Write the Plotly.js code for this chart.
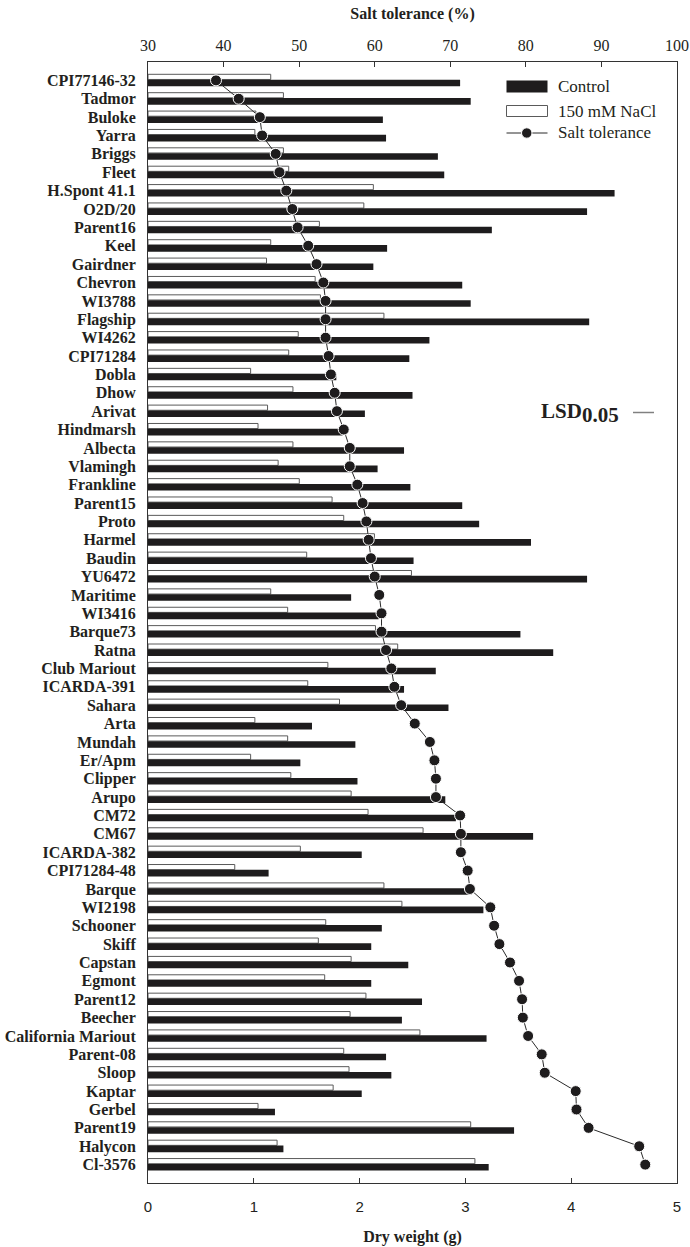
<!DOCTYPE html>
<html>
<head>
<meta charset="utf-8">
<script src="https://cdn.plot.ly/plotly-3.0.1.min.js"></script>
<style>
  html, body { margin: 0; padding: 0; background: #ffffff; }
  #chart { width: 690px; height: 1247px; }
</style>
</head>
<body>
<div id="chart"></div>
<script>
// ---- data (top to bottom) ----
const cultivars = [
  "CPI77146-32", "Tadmor", "Buloke", "Yarra", "Briggs", "Fleet", "H.Spont 41.1", "O2D/20",
  "Parent16", "Keel", "Gairdner", "Chevron", "WI3788", "Flagship", "WI4262", "CPI71284",
  "Dobla", "Dhow", "Arivat", "Hindmarsh", "Albecta", "Vlamingh", "Frankline", "Parent15",
  "Proto", "Harmel", "Baudin", "YU6472", "Maritime", "WI3416", "Barque73", "Ratna",
  "Club Mariout", "ICARDA-391", "Sahara", "Arta", "Mundah", "Er/Apm", "Clipper", "Arupo",
  "CM72", "CM67", "ICARDA-382", "CPI71284-48", "Barque", "WI2198", "Schooner", "Skiff",
  "Capstan", "Egmont", "Parent12", "Beecher", "California Mariout", "Parent-08", "Sloop",
  "Kaptar", "Gerbel", "Parent19", "Halycon", "Cl-3576"
];

// Dry weight (g), control
const controlDW = [
  2.95, 3.05, 2.22, 2.25, 2.74, 2.80, 4.41, 4.15,
  3.25, 2.26, 2.13, 2.97, 3.05, 4.17, 2.66, 2.47,
  1.78, 2.50, 2.05, 1.84, 2.42, 2.17, 2.48, 2.97,
  3.13, 3.62, 2.51, 4.15, 1.92, 2.18, 3.52, 3.83,
  2.72, 2.42, 2.84, 1.55, 1.96, 1.44, 1.98, 2.81,
  2.91, 3.64, 2.02, 1.14, 3.06, 3.17, 2.21, 2.11,
  2.46, 2.11, 2.59, 2.40, 3.20, 2.25, 2.30,
  2.02, 1.20, 3.46, 1.28, 3.22
];

// Dry weight (g), 150 mM NaCl
const saltDW = [
  1.16, 1.28, 1.02, 1.01, 1.28, 1.33, 2.13, 2.04,
  1.62, 1.16, 1.12, 1.58, 1.63, 2.23, 1.42, 1.33,
  0.97, 1.37, 1.13, 1.04, 1.37, 1.23, 1.43, 1.74,
  1.85, 2.14, 1.50, 2.49, 1.16, 1.32, 2.15, 2.36,
  1.70, 1.51, 1.81, 1.01, 1.32, 0.97, 1.35, 1.92,
  2.08, 2.60, 1.44, 0.82, 2.23, 2.40, 1.68, 1.61,
  1.92, 1.67, 2.06, 1.91, 2.57, 1.85, 1.90,
  1.75, 1.04, 3.05, 1.22, 3.09
];

// Salt tolerance (%)
const saltTolerance = [
  39.0, 42.0, 44.8, 45.1, 46.9, 47.4, 48.3, 49.1,
  49.8, 51.2, 52.3, 53.2, 53.5, 53.5, 53.5, 53.9,
  54.2, 54.7, 55.0, 55.9, 56.7, 56.7, 57.7, 58.4,
  58.9, 59.2, 59.5, 60.0, 60.6, 60.9, 60.9, 61.5,
  62.2, 62.6, 63.5, 65.3, 67.3, 67.9, 68.1, 68.1,
  71.3, 71.4, 71.4, 72.3, 72.6, 75.3, 75.8, 76.5,
  77.9, 79.1, 79.5, 79.6, 80.3, 82.1, 82.5,
  86.6, 86.7, 88.3, 95.0, 95.8
];

const dwTicks = [0, 1, 2, 3, 4, 5];
const stTicks = [30, 40, 50, 60, 70, 80, 90, 100];

// ---- geometry helpers (pixel -> paper) ----
const W = 690, H = 1247;
const M = { l: 148, r: 13, t: 62, b: 64 };
const PW = W - M.l - M.r, PH = H - M.t - M.b;
const px = x => (x - M.l) / PW;
const py = y => 1 - (y - M.t) / PH;

const SERIF = "Liberation Serif, Times New Roman, serif";
const SANS = "Liberation Sans, Arial, sans-serif";
const INK = "#231f20";

const traces = [
  {
    type: "bar", orientation: "h", name: "150 mM NaCl",
    y: cultivars, x: saltDW,
    offset: -0.33, width: 0.28,
    marker: { color: "#ffffff", line: { color: "#5a5a5a", width: 1 } },
    hoverinfo: "x+y"
  },
  {
    type: "bar", orientation: "h", name: "Control",
    y: cultivars, x: controlDW,
    offset: -0.04, width: 0.36,
    marker: { color: "#1e1c1d", line: { width: 0 } },
    hoverinfo: "x+y"
  },
  {
    type: "scatter", mode: "lines+markers", name: "Salt tolerance",
    y: cultivars, x: saltTolerance, xaxis: "x2", yaxis: "y",
    line: { color: "#2a2a2a", width: 1 },
    marker: { color: "#1e1c1d", size: 11, line: { color: "#ffffff", width: 1 } },
    cliponaxis: false
  }
];

const layout = {
  width: W, height: H,
  margin: M,
  paper_bgcolor: "#ffffff", plot_bgcolor: "#ffffff",
  showlegend: false,
  barmode: "overlay",
  font: { family: SERIF, color: INK },
  xaxis: {
    range: [0, 5], tickmode: "array", tickvals: dwTicks, ticktext: dwTicks.map(String),
    ticks: "inside", ticklen: 5, tickcolor: "#333",
    showline: true, linecolor: "#333", linewidth: 1, mirror: false,
    showgrid: false, zeroline: false,
    tickfont: { family: SANS, size: 15, color: INK },
    ticklabelstandoff: 10,
    title: { text: "Dry weight (g)", font: { family: SERIF, size: 16, weight: "bold", color: INK }, standoff: 16 }
  },
  xaxis2: {
    overlaying: "x", side: "top", anchor: "y",
    range: [30, 100], tickmode: "array", tickvals: stTicks, ticktext: stTicks.map(String),
    ticks: "inside", ticklen: 5, tickcolor: "#333",
    showline: true, linecolor: "#333", linewidth: 1,
    showgrid: false, zeroline: false,
    tickfont: { family: SERIF, size: 16, color: INK },
    ticklabelstandoff: 4,
    title: { text: "Salt tolerance (%)", font: { family: SERIF, size: 16, weight: "bold", color: INK }, standoff: 12 }
  },
  yaxis: {
    type: "category", categoryorder: "array", categoryarray: cultivars,
    tickmode: "array", tickvals: cultivars, ticktext: cultivars,
    range: [60, -1],
    showline: true, linecolor: "#333", linewidth: 1, mirror: true,
    ticks: "", showgrid: false, zeroline: false,
    tickfont: { family: SERIF, size: 16, weight: "bold", color: INK },
    ticklabelstandoff: 8
  },
  shapes: [
    // custom legend
    { type: "rect", xref: "paper", yref: "paper", x0: px(506.5), x1: px(547.5), y0: py(92.5), y1: py(80.5),
      fillcolor: "#1e1c1d", line: { width: 0 } },
    { type: "rect", xref: "paper", yref: "paper", x0: px(506.5), x1: px(547.5), y0: py(116.5), y1: py(105.5),
      fillcolor: "#ffffff", line: { color: "#5a5a5a", width: 1 } },
    { type: "line", xref: "paper", yref: "paper", x0: px(506.5), x1: px(547.5), y0: py(133), y1: py(133),
      line: { color: "#2a2a2a", width: 1 } },
    { type: "circle", xref: "paper", yref: "paper", x0: px(521.5), x1: px(532), y0: py(138.2), y1: py(127.8),
      fillcolor: "#1e1c1d", line: { color: "#ffffff", width: 1 } },
    // LSD bar
    { type: "line", xref: "paper", yref: "paper", x0: px(633), x1: px(654), y0: py(412.5), y1: py(412.5),
      line: { color: "#808080", width: 1.5 } }
  ],
  annotations: [
    { xref: "paper", yref: "paper", x: px(556), y: py(86.5), xanchor: "left", yanchor: "middle",
      text: "Control", showarrow: false, font: { family: SERIF, size: 17, color: INK } },
    { xref: "paper", yref: "paper", x: px(556), y: py(111), xanchor: "left", yanchor: "middle",
      text: "150 mM NaCl", showarrow: false, font: { family: SERIF, size: 17, color: INK } },
    { xref: "paper", yref: "paper", x: px(556), y: py(133), xanchor: "left", yanchor: "middle",
      text: "Salt tolerance", showarrow: false, font: { family: SERIF, size: 17, color: INK } },
    { xref: "paper", yref: "paper", x: px(539), y: py(411), xanchor: "left", yanchor: "middle",
      text: "LSD", showarrow: false, font: { family: SERIF, size: 21, weight: "bold", color: INK } },
    { xref: "paper", yref: "paper", x: px(580), y: py(414.5), xanchor: "left", yanchor: "middle",
      text: "0.05", showarrow: false, font: { family: SERIF, size: 21, weight: "bold", color: INK } }
  ]
};

Plotly.newPlot("chart", traces, layout, { displayModeBar: false, staticPlot: true });
</script>
</body>
</html>
